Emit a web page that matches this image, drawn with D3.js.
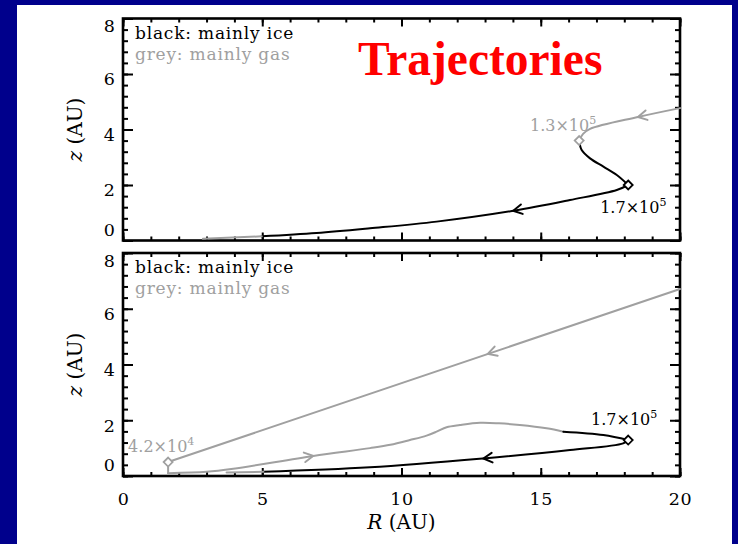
<!DOCTYPE html>
<html><head><meta charset="utf-8">
<script src="https://cdn.jsdelivr.net/npm/d3@7"></script>
<style>html,body{margin:0;padding:0;background:#00008c;} svg{display:block}</style>
</head><body><svg id="c" width="738" height="544"></svg>
<script>
// ---------- data ----------
const xTickValues = [0, 5, 10, 15, 20];
const xMinorValues = d3.range(0, 21, 1);
const yTickValues = [0, 2, 4, 6, 8];
const yMinorValues = d3.range(0, 21).map(i => +(i * 0.4).toFixed(1));

// top panel series (R, z) in AU
const topGasInR  = [20.0, 18.49, 16.77, 16.52, 16.38];
const topGasInZ  = [4.77, 4.45, 4.02, 3.84, 3.60];
const topIceR    = [16.38, 16.47, 16.77, 17.25, 17.73, 18.14];
const topIceZ    = [3.60, 3.26, 2.96, 2.66, 2.36, 2.00];
const topIceOutR = [18.14, 17.73, 16.05, 14.01, 11.26, 8.87, 6.95, 4.98];
const topIceOutZ = [2.00, 1.82, 1.46, 1.07, 0.68, 0.44, 0.27, 0.15];
const topGasOutR = [4.98, 2.87];
const topGasOutZ = [0.15, 0.06];

// bottom panel series
const botGasInR   = [20.0, 1.62];
const botGasInZ   = [6.71, 0.50];
const botGasDropR = [1.62, 1.62];
const botGasDropZ = [0.50, 0.10];
const botGasMidR  = [1.62, 3.0, 3.96, 6.83, 8.87, 9.6, 10.3, 10.9, 11.26, 11.62, 12.1, 12.82, 13.5, 14.25, 15.21, 15.81];
const botGasMidZ  = [0.10, 0.15, 0.26, 0.72, 1.00, 1.12, 1.29, 1.45, 1.59, 1.75, 1.83, 1.91, 1.89, 1.83, 1.71, 1.59];
const botIceInR   = [15.81, 17.25, 18.14];
const botIceInZ   = [1.59, 1.47, 1.29];
const botIceOutR  = [18.14, 17.96, 16.05, 12.94, 8.87, 5.04];
const botIceOutZ  = [1.29, 1.17, 0.93, 0.63, 0.31, 0.15];
const botGasOutR  = [5.04, 3.72];
const botGasOutZ  = [0.15, 0.13];

// markers (diamonds) and their time labels (years)
const topMarkR = [16.38, 18.14];
const topMarkZ = [3.60, 2.00];
const topMarkLabel = [["1.3×10", "5"], ["1.7×10", "5"]];
const botMarkR = [1.62, 18.14];
const botMarkZ = [0.50, 1.29];
const botMarkLabel = [["4.2×10", "4"], ["1.7×10", "5"]];

// arrow positions (R along series)
const topArrowGasR = 18.49;
const topArrowIceR = 14.01;
const botArrowGasInR = 13.1;
const botArrowGasMidR = 6.83;
const botArrowIceR = 12.94;

const legendLines = ["black: mainly ice", "grey: mainly gas"];
const titleText = "Trajectories";

// ---------- drawing ----------
const GREY = "#a0a0a0", BLACK = "#000";
const FONT = "'DejaVu Serif', 'Liberation Serif', serif";
const svg = d3.select("#c");
svg.append("rect").attr("x", 17).attr("y", 5).attr("width", 715).attr("height", 539).attr("fill", "#fff");

const x = d3.scaleLinear().domain([0, 20]).range([123, 680]);
const panels = [
  {top: 18.5, bottom: 240.5, labelsX: false},
  {top: 253, bottom: 476, labelsX: true}
];
panels.forEach(p => p.y = d3.scaleLinear().domain([0, 8]).range([p.bottom, p.top]));

function zipRZ(R, Z) { return R.map((r, i) => [r, Z[i]]); }

function drawAxes(p) {
  const g = svg.append("g");
  const y = p.y;
  const styleTicks = sel => { sel.select(".domain").remove(); sel.selectAll("line").attr("stroke", "#000").attr("stroke-width", 2); sel.selectAll("text").remove(); };
  g.append("g").attr("transform", `translate(${x(0)},0)`).call(d3.axisLeft(y).tickValues(yMinorValues).tickSize(-5)).call(styleTicks);
  g.append("g").attr("transform", `translate(${x(0)},0)`).call(d3.axisLeft(y).tickValues(yTickValues).tickSize(-10)).call(styleTicks);
  g.append("g").attr("transform", `translate(${x(20)},0)`).call(d3.axisRight(y).tickValues(yMinorValues).tickSize(-5)).call(styleTicks);
  g.append("g").attr("transform", `translate(${x(20)},0)`).call(d3.axisRight(y).tickValues(yTickValues).tickSize(-10)).call(styleTicks);
  g.append("g").attr("transform", `translate(0,${p.top})`).call(d3.axisTop(x).tickValues(xMinorValues).tickSize(-4)).call(styleTicks);
  g.append("g").attr("transform", `translate(0,${p.top})`).call(d3.axisTop(x).tickValues(xTickValues).tickSize(-8)).call(styleTicks);
  g.append("g").attr("transform", `translate(0,${p.bottom})`).call(d3.axisBottom(x).tickValues(xMinorValues).tickSize(-4)).call(styleTicks);
  g.append("g").attr("transform", `translate(0,${p.bottom})`).call(d3.axisBottom(x).tickValues(xTickValues).tickSize(-8)).call(styleTicks);

  const yl = g.append("g").attr("transform", `translate(${x(0)},0)`).call(d3.axisLeft(y).tickValues(yTickValues).tickSize(0).tickPadding(8));
  yl.select(".domain").remove();
  yl.selectAll("text").attr("font-family", FONT).attr("font-size", 17.5).attr("fill", "#000")
    .attr("dy", d => d === 0 ? "-0.3em" : d === 8 ? "0.75em" : "0.62em");
  if (p.labelsX) {
    const xl = g.append("g").attr("transform", `translate(0,${p.bottom})`).call(d3.axisBottom(x).tickValues(xTickValues).tickSize(0).tickPadding(17));
    xl.select(".domain").remove();
    xl.selectAll("text").attr("font-family", FONT).attr("font-size", 17.5).attr("fill", "#000").attr("letter-spacing", 0.5);
  }
  g.append("rect").attr("x", x(0)).attr("y", p.top).attr("width", x(20) - x(0)).attr("height", p.bottom - p.top)
    .attr("fill", "none").attr("stroke", "#000").attr("stroke-width", 2.6);

  legendLines.forEach((t, i) => {
    g.append("text").attr("x", x(0) + 12).attr("y", p.top + 20 + i * 21)
      .attr("font-family", FONT).attr("font-size", 17).attr("letter-spacing", 0.8)
      .attr("fill", i === 0 ? BLACK : GREY).text(t);
  });
  const yt = g.append("text").attr("transform", `translate(82,${(p.top + p.bottom) / 2}) rotate(-90)`)
    .attr("text-anchor", "middle").attr("font-family", FONT).attr("font-size", 20).attr("fill", "#000");
  yt.append("tspan").attr("font-style", "italic").text("z");
  yt.append("tspan").text(" (AU)");
}

function drawLine(p, R, Z, color) {
  const line = d3.line().x(d => x(d[0])).y(d => p.y(d[1])).curve(d3.curveCatmullRom.alpha(0.5));
  svg.append("path").attr("d", line(zipRZ(R, Z))).attr("fill", "none").attr("stroke", color)
    .attr("stroke-width", 2).attr("stroke-linejoin", "round").attr("stroke-linecap", "round");
}

function drawArrow(p, R, Z, atR, color) {
  const pts = zipRZ(R, Z);
  for (let i = 0; i < pts.length - 1; i++) {
    const a = pts[i], b = pts[i + 1];
    if ((atR - a[0]) * (atR - b[0]) <= 0 && a[0] !== b[0]) {
      const t = (atR - a[0]) / (b[0] - a[0]);
      const zz = a[1] + t * (b[1] - a[1]);
      const px = x(atR), py = p.y(zz);
      const ang = Math.atan2(p.y(b[1]) - p.y(a[1]), x(b[0]) - x(a[0]));
      const L = 10, spread = 0.5;
      const p1 = [px - L * Math.cos(ang - spread), py - L * Math.sin(ang - spread)];
      const p2 = [px - L * Math.cos(ang + spread), py - L * Math.sin(ang + spread)];
      svg.append("path").attr("d", `M${p1[0]},${p1[1]}L${px},${py}L${p2[0]},${p2[1]}`)
        .attr("fill", "none").attr("stroke", color).attr("stroke-width", 2).attr("stroke-linecap", "round");
      return;
    }
  }
}

function drawMarker(p, r, z, color) {
  const s = 4.5;
  const cx = x(r), cy = p.y(z);
  svg.append("path").attr("d", `M${cx},${cy - s}L${cx + s},${cy}L${cx},${cy + s}L${cx - s},${cy}Z`)
    .attr("fill", "#fff").attr("stroke", color).attr("stroke-width", 1.8);
}

function drawLabel(p, r, z, parts, color, dx, dy, anchor) {
  const t = svg.append("text").attr("x", x(r) + dx).attr("y", p.y(z) + dy).attr("text-anchor", anchor)
    .attr("font-family", FONT).attr("font-size", 16).attr("fill", color);
  t.append("tspan").text(parts[0]);
  t.append("tspan").attr("dy", -7).attr("font-size", 11).text(parts[1]);
}

const P0 = panels[0], P1 = panels[1];
drawAxes(P0);
drawLine(P0, topGasInR, topGasInZ, GREY);
drawLine(P0, topIceR, topIceZ, BLACK);
drawLine(P0, topIceOutR, topIceOutZ, BLACK);
drawLine(P0, topGasOutR, topGasOutZ, GREY);
drawArrow(P0, topGasInR, topGasInZ, topArrowGasR, GREY);
drawArrow(P0, topIceOutR, topIceOutZ, topArrowIceR, BLACK);
drawMarker(P0, topMarkR[0], topMarkZ[0], GREY);
drawMarker(P0, topMarkR[1], topMarkZ[1], BLACK);
drawLabel(P0, topMarkR[0], topMarkZ[0], topMarkLabel[0], GREY, 17, -10, "end");
drawLabel(P0, topMarkR[1], topMarkZ[1], topMarkLabel[1], BLACK, -28, 28, "start");

drawAxes(P1);
drawLine(P1, botGasInR, botGasInZ, GREY);
drawLine(P1, botGasDropR, botGasDropZ, GREY);
drawLine(P1, botGasMidR, botGasMidZ, GREY);
drawLine(P1, botIceInR, botIceInZ, BLACK);
drawLine(P1, botIceOutR, botIceOutZ, BLACK);
drawLine(P1, botGasOutR, botGasOutZ, GREY);
drawArrow(P1, botGasInR, botGasInZ, botArrowGasInR, GREY);
drawArrow(P1, botGasMidR, botGasMidZ, botArrowGasMidR, GREY);
drawArrow(P1, botIceOutR, botIceOutZ, botArrowIceR, BLACK);
drawMarker(P1, botMarkR[0], botMarkZ[0], GREY);
drawMarker(P1, botMarkR[1], botMarkZ[1], BLACK);
drawLabel(P1, botMarkR[0], botMarkZ[0], botMarkLabel[0], GREY, -40, -10, "start");
drawLabel(P1, botMarkR[1], botMarkZ[1], botMarkLabel[1], BLACK, -4, -15, "middle");

const xt = svg.append("text").attr("x", x(10)).attr("y", 529).attr("text-anchor", "middle")
  .attr("font-family", FONT).attr("font-size", 20).attr("fill", "#000");
xt.append("tspan").attr("font-style", "italic").text("R");
xt.append("tspan").text(" (AU)");

svg.append("text").attr("x", 358).attr("y", 75).attr("font-family", "'Liberation Serif', 'Times New Roman', serif")
  .attr("font-weight", "bold").attr("font-size", 47.5).attr("fill", "#ff0000").text(titleText);
</script></body></html>
